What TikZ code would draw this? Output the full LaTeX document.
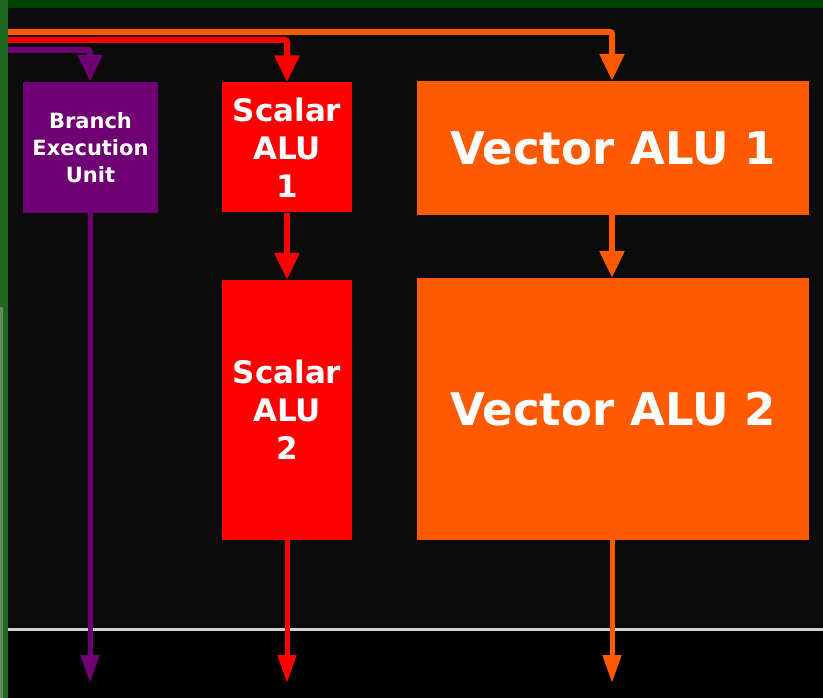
\documentclass[tikz,border=0pt]{standalone}
\usepackage{fontspec}
\setsansfont{DejaVu Sans}
\usetikzlibrary{arrows.meta}
\definecolor{bgtop}{RGB}{11,11,11}
\definecolor{gtop}{RGB}{0,66,0}
\definecolor{gleft}{RGB}{30,105,30}
\definecolor{gpale}{RGB}{95,140,95}
\definecolor{cpurple}{RGB}{110,0,115}
\definecolor{cred}{RGB}{255,0,0}
\definecolor{corange}{RGB}{255,90,0}
\definecolor{cline}{RGB}{210,210,210}
\tikzset{
  unit/.style={inner sep=0pt, align=center, text=white, font=\sffamily\bfseries},
  bigtxt/.style={font=\sffamily\bfseries\fontsize{45}{52}\selectfont},
  midtxt/.style={font=\sffamily\bfseries\fontsize{31}{38}\selectfont},
  smalltxt/.style={font=\sffamily\bfseries\fontsize{21}{27}\selectfont},
  topar/.style={line width=6pt, -{Triangle[width=24pt,length=27pt]}},
  botar/.style={line width=5pt, -{Triangle[width=18pt,length=28pt]}},
}
\begin{document}
\begin{tikzpicture}[x=1pt,y=-1pt]
\useasboundingbox (0,0) rectangle (823,698);
% background and frame
\fill[bgtop] (0,0) rectangle (823,629);
\fill[black] (0,629) rectangle (823,698);
\fill[gtop] (0,0) rectangle (823,8);
\fill[gleft] (0,0) rectangle (8,698);
\fill[gpale] (0,307) rectangle (3,698);
\draw[cline, line width=3pt] (8,629) -- (823,629);

% units
\node[unit, smalltxt, fill=cpurple, minimum width=135pt, minimum height=131pt] (beu) at (90.5,147.5) {Branch\\Execution\\Unit};
\node[unit, midtxt, fill=cred, minimum width=130pt, minimum height=130pt] (s1) at (287,147.5) {Scalar\\ALU\\1};
\node[unit, bigtxt, fill=corange, minimum width=392pt, minimum height=134pt] (v1) at (613,148) {Vector ALU 1};
\node[unit, midtxt, fill=cred, minimum width=130pt, minimum height=260pt] (s2) at (287,410) {Scalar\\ALU\\2};
\node[unit, bigtxt, fill=corange, minimum width=392pt, minimum height=262pt] (v2) at (613,409) {Vector ALU 2};

% feed lines
\coordinate (po) at (8,32);
\coordinate (pr) at (8,40);
\coordinate (pp) at (8,50);
\coordinate (eb) at (90,683);
\coordinate (es) at (287,683);
\coordinate (ev) at (612,683);

\draw[topar, corange, rounded corners=2pt] (po) -| ([xshift=-1pt]v1.north);
\draw[topar, cred, rounded corners=2pt] (pr) -| (s1.north);
\draw[topar, cpurple, rounded corners=2pt] (pp) -| ([xshift=-0.5pt]beu.north);

\draw[topar, cred] (s1.south) -- (s2.north);
\draw[topar, corange] ([xshift=-1pt]v1.south) -- ([xshift=-1pt]v2.north);

\draw[botar, cpurple] ([xshift=-0.5pt]beu.south) -- (eb);
\draw[botar, cred] (s2.south) -- (es);
\draw[botar, corange] ([xshift=-1pt]v2.south) -- (ev);
\end{tikzpicture}
\end{document}
